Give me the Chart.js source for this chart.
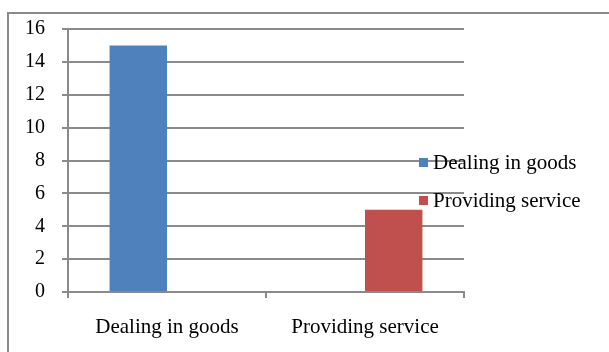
<!DOCTYPE html>
<html>
<head>
<meta charset="utf-8">
<script src="https://cdn.jsdelivr.net/npm/chart.js@4/dist/chart.umd.min.js"></script>
<style>
  html, body { margin: 0; padding: 0; background: #fff; }
  #wrap { position: relative; width: 609px; height: 352px; overflow: hidden; }
  #frame { position: absolute; left: 7px; top: 12px; width: 700px; height: 400px;
           border-left: 2px solid #8a8a8a; border-top: 2px solid #8a8a8a; }
  canvas { position: absolute; left: 0; top: 0; }
</style>
</head>
<body>
<div id="wrap">
  <div id="frame"></div>
  <canvas id="chart" width="609" height="352"></canvas>
</div>
<script>
// -----------------------------
// Data
// -----------------------------
const categories = ['Dealing in goods', 'Providing service'];
const goodsValues = [15, null];
const serviceValues = [null, 5];
const yTicks = [0, 2, 4, 6, 8, 10, 12, 14, 16];

const FONT = "'Liberation Serif', 'Times New Roman', serif";
const GRID = '#8a8a8a';
const BLUE = '#4F81BD';
const RED = '#C0504D';

// legend drawn on the right, overlapping the plot edge like the original
const sideLegend = {
  id: 'sideLegend',
  afterDraw(chart) {
    const ctx = chart.ctx;
    const items = chart.data.datasets.map(d => ({ label: d.label, color: d.backgroundColor }));
    const rows = [162, 200];
    ctx.save();
    ctx.font = '21px ' + FONT;
    ctx.textBaseline = 'middle';
    items.forEach((it, i) => {
      ctx.fillStyle = it.color;
      ctx.fillRect(419, rows[i] - 4, 9, 9);
      ctx.fillStyle = '#000';
      ctx.fillText(it.label, 433, rows[i] + 1);
    });
    ctx.restore();
  }
};

new Chart(document.getElementById('chart'), {
  type: 'bar',
  data: {
    labels: categories,
    datasets: [
      { label: 'Dealing in goods', data: goodsValues, backgroundColor: BLUE },
      { label: 'Providing service', data: serviceValues, backgroundColor: RED }
    ]
  },
  options: {
    responsive: false,
    animation: false,
    devicePixelRatio: 1,
    layout: { padding: { left: 0, top: 29, right: 145, bottom: 0 } },
    datasets: { bar: { barPercentage: 1, categoryPercentage: 0.58 } },
    plugins: { legend: { display: false }, tooltip: { enabled: false } },
    scales: {
      x: {
        grid: { display: true, drawOnChartArea: false, drawTicks: true, tickLength: 6, color: GRID, lineWidth: 2, offset: true },
        border: { display: true, color: GRID, width: 2 },
        ticks: { color: '#000', font: { family: FONT, size: 21 }, padding: 17, maxRotation: 0 },
        afterFit: s => { s.height = 60; }
      },
      y: {
        min: 0,
        max: 16,
        afterBuildTicks: s => { s.ticks = yTicks.map(v => ({ value: v })); },
        grid: { color: GRID, lineWidth: 2, tickLength: 6 },
        border: { display: true, color: GRID, width: 2 },
        ticks: { color: '#000', font: { family: FONT, size: 20 }, padding: 17 },
        afterFit: s => { s.width = 68; }
      }
    }
  },
  plugins: [sideLegend]
});
</script>
</body>
</html>
